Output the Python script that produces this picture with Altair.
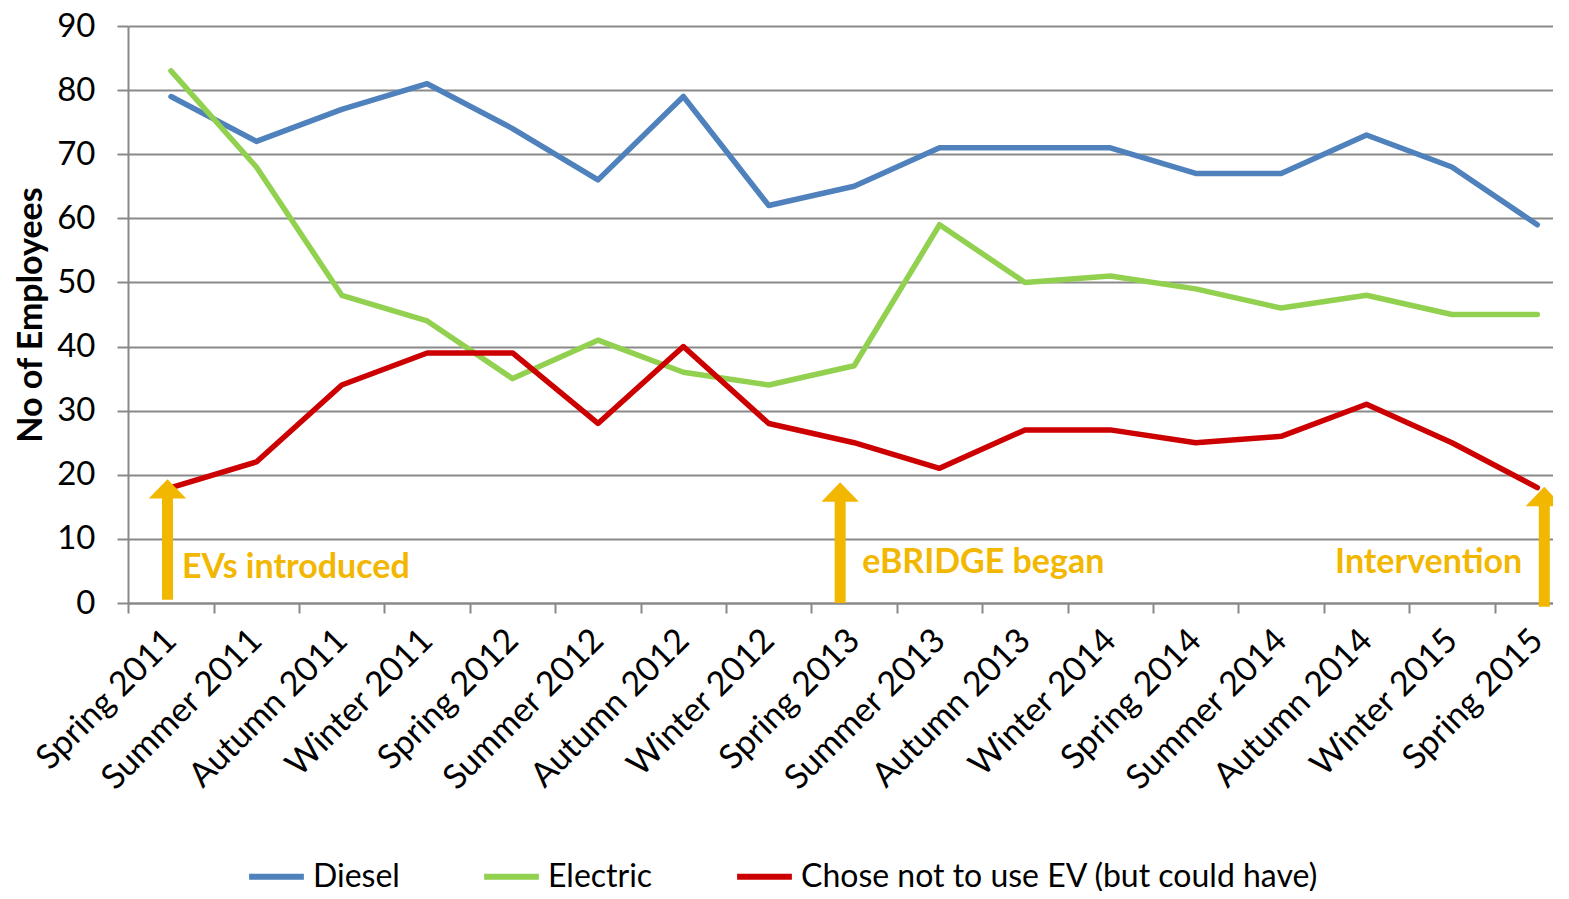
import altair as alt
import pandas as pd

seasons = ["Spring 2011", "Summer 2011", "Autumn 2011", "Winter 2011",
           "Spring 2012", "Summer 2012", "Autumn 2012", "Winter 2012",
           "Spring 2013", "Summer 2013", "Autumn 2013", "Winter 2014",
           "Spring 2014", "Summer 2014", "Autumn 2014", "Winter 2015",
           "Spring 2015"]
diesel = [79, 72, 77, 81, 74, 66, 79, 62, 65, 71, 71, 71, 67, 67, 73, 68, 59]
electric = [83, 68, 48, 44, 35, 41, 36, 34, 37, 59, 50, 51, 49, 46, 48, 45, 45]
chose_not = [18, 22, 34, 39, 39, 28, 40, 28, 25, 21, 27, 27, 25, 26, 31, 25, 18]

series_names = ["Diesel", "Electric", "Chose not to use EV (but could have)"]
series_colors = ["#4F81BD", "#92D050", "#CC0000"]

# annotation arrows (category, base value, shaft top value, head centre value)
arrow_cats = ["Spring 2011", "Spring 2013", "Spring 2015"]
arrow_base = [0.5, 0.0, -0.6]
arrow_top = [16.8, 16.3, 15.5]
arrow_head = [17.8, 17.3, 16.6]
arrow_dx = [-3.5, -14, 7]

label_texts = ["EVs introduced", "eBRIDGE began", "Intervention"]
label_cats = ["Spring 2011", "Spring 2013", "Spring 2015"]
label_vals = [5.4, 6.2, 6.2]
label_dx = [11, 8, -15]
label_align = ["left", "left", "right"]

GOLD = "#F2B700"
FONT = "Lato"

rows = []
for name, vals in zip(series_names, [diesel, electric, chose_not]):
    for s, v in zip(seasons, vals):
        rows.append({"season": s, "series": name, "value": v})
df = pd.DataFrame(rows)

xscale = alt.Scale(type="band", domain=seasons, range=[0.3, 1452],
                   paddingInner=0, paddingOuter=0)
yscale = alt.Scale(domain=[0, 90], nice=False)

x_enc = alt.X("season:N", sort=seasons, scale=xscale,
              axis=alt.Axis(title=None, labelAngle=-45, labelAlign="right",
                            labelBaseline="middle", labelFontSize=34,
                            labelFont=FONT, labelColor="#000000",
                            labelPadding=22, tickBand="extent", tickSize=10,
                            tickColor="#898989", tickWidth=2,
                            domainColor="#898989", domainWidth=2,
                            grid=False, labelLimit=400))
y_enc = alt.Y("value:Q", scale=yscale,
              axis=alt.Axis(title="No of Employees", titleFontSize=34,
                            titleFont=FONT, titleFontWeight="bold",
                            titleColor="#000000", titlePadding=8,
                            values=list(range(0, 91, 10)),
                            labelFontSize=33, labelFont=FONT,
                            labelColor="#000000", labelPadding=22,
                            tickSize=11, tickColor="#898989", tickWidth=2,
                            domainColor="#898989", domainWidth=2,
                            grid=True, gridColor="#898989", gridWidth=2))

color_enc = alt.Color("series:N",
                      scale=alt.Scale(domain=series_names, range=series_colors),
                      legend=alt.Legend(title=None, orient="none",
                                        direction="horizontal",
                                        legendX=118, legendY=820,
                                        symbolType="stroke",
                                        symbolStrokeWidth=6, symbolSize=3000,
                                        labelFontSize=32, labelFont=FONT,
                                        labelColor="#000000", labelOffset=6,
                                        columnPadding=72, labelLimit=800,
                                        padding=0))

base = alt.Chart(df)
layers = []
for name in series_names:
    layers.append(
        base.transform_filter(alt.datum.series == name)
        .mark_line(strokeWidth=5.5, strokeJoin="round", strokeCap="round")
        .encode(x=x_enc, y=y_enc, color=color_enc)
    )

arrow_df = pd.DataFrame({"season": arrow_cats, "base": arrow_base,
                         "top": arrow_top, "head": arrow_head})
for i in range(len(arrow_cats)):
    one = alt.Chart(arrow_df.iloc[[i]])
    layers.append(one.mark_rule(color=GOLD, strokeWidth=11, xOffset=arrow_dx[i])
                  .encode(x=alt.X("season:N", sort=seasons, scale=xscale),
                          y=alt.Y("base:Q", scale=yscale),
                          y2="top:Q"))
    layers.append(one.mark_point(shape="M-1,0.52L0,-0.52L1,0.52Z", filled=True,
                                 color=GOLD, opacity=1, size=1400,
                                 xOffset=arrow_dx[i])
                  .encode(x=alt.X("season:N", sort=seasons, scale=xscale),
                          y=alt.Y("head:Q", scale=yscale)))

label_df = pd.DataFrame({"season": label_cats, "text": label_texts,
                         "v": label_vals})
for i in range(len(label_texts)):
    layers.append(alt.Chart(label_df.iloc[[i]])
                  .mark_text(font=FONT, fontSize=34, fontWeight="bold",
                             color=GOLD, align=label_align[i],
                             baseline="middle", dx=label_dx[i])
                  .encode(x=alt.X("season:N", sort=seasons, scale=xscale),
                          y=alt.Y("v:Q", scale=yscale),
                          text="text:N"))

chart = alt.layer(*layers).properties(
    width=1425, height=577,
    autosize=alt.AutoSizeParams(type="none"),
    padding={"left": 120, "top": 18, "right": 0, "bottom": 288},
).configure_view(stroke=None).configure(background="white")

chart.save("out.html", embed_options={"renderer": "svg", "actions": False})
